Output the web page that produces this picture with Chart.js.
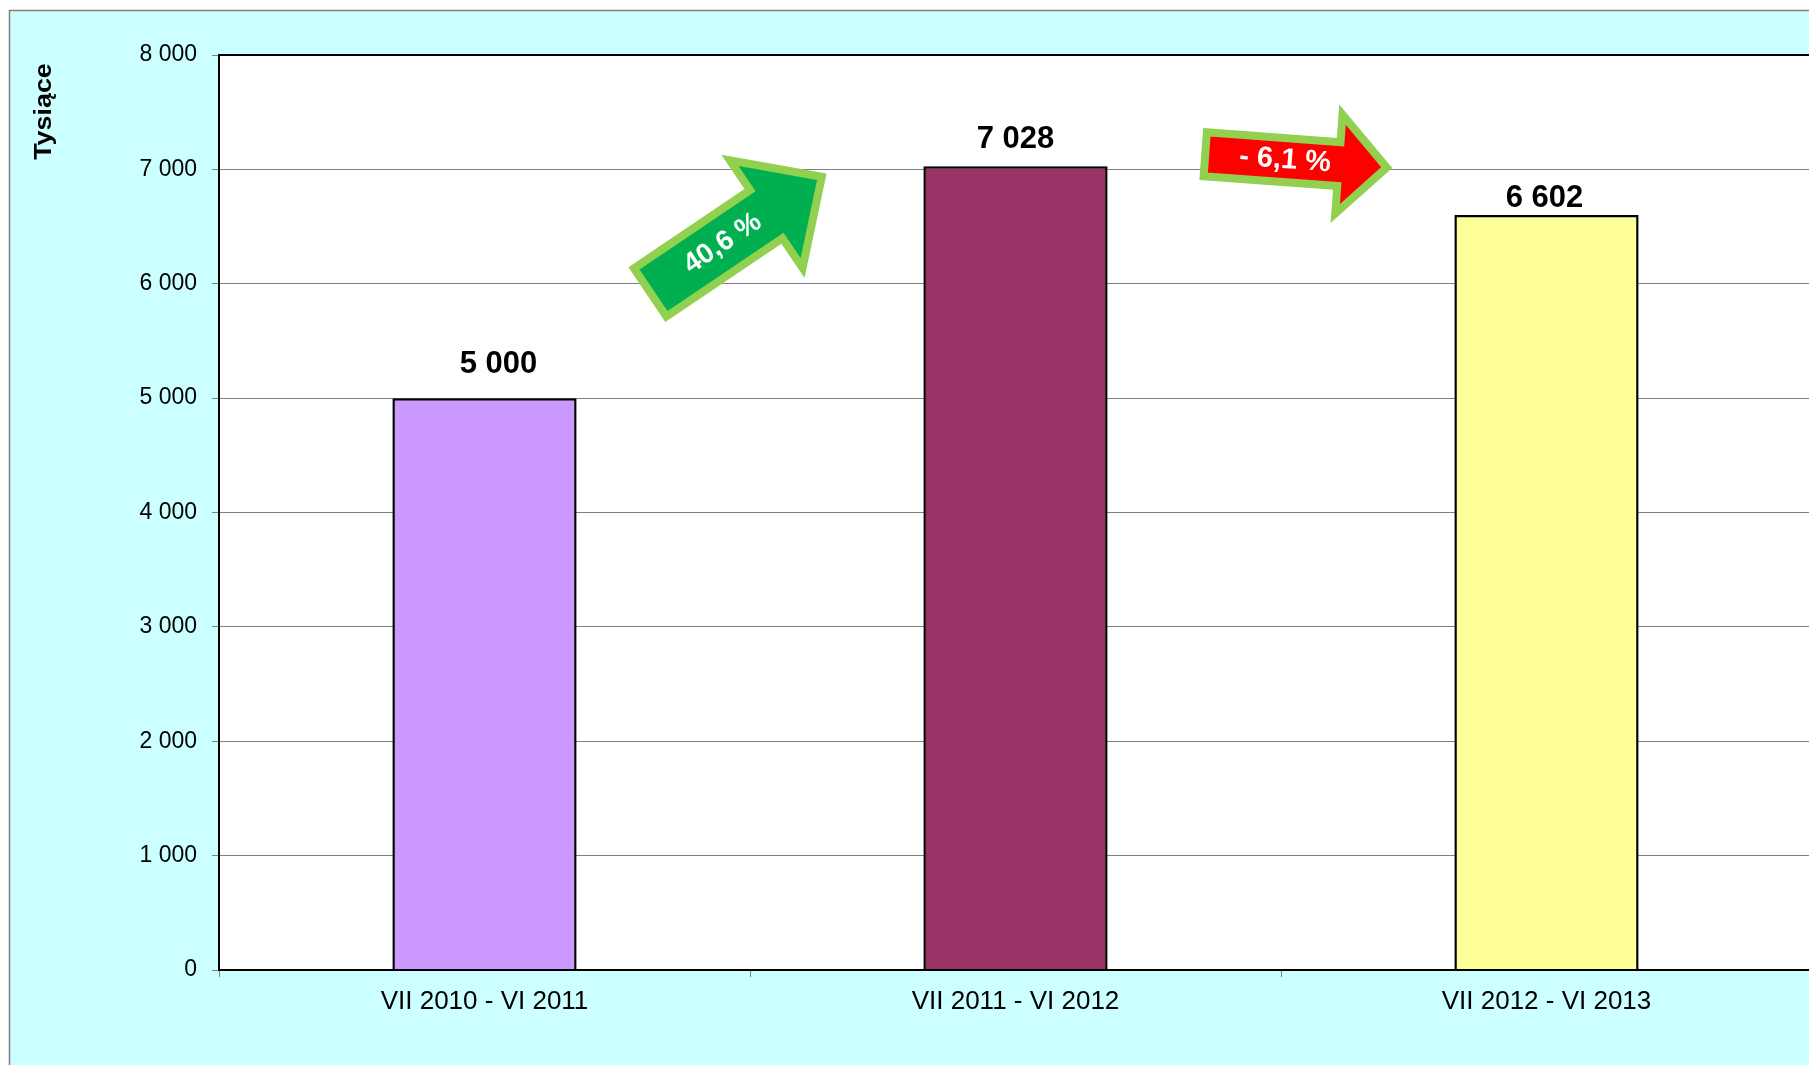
<!DOCTYPE html>
<html>
<head>
<meta charset="utf-8">
<script src="https://cdn.jsdelivr.net/npm/chart.js@4/dist/chart.umd.min.js"></script>
<style>
  html, body { margin: 0; padding: 0; background: #fff; overflow: hidden; }
  #wrap { width: 1820px; height: 1065px; }
</style>
</head>
<body>
<div id="wrap"><canvas id="myChart" width="1820" height="1065"></canvas></div>
<script>
// data
const periods = ["VII 2010 - VI 2011", "VII 2011 - VI 2012", "VII 2012 - VI 2013"];
const values = [5000, 7028, 6602];
const barColors = ["#CC99FF", "#993366", "#FFFF99"];
const yTicks = [0, 1000, 2000, 3000, 4000, 5000, 6000, 7000, 8000];
const axisTitle = "Tysiące";

const FONT = "'Liberation Sans', Arial, sans-serif";

const fmtNum = (v) => String(v).replace(/\B(?=(\d{3})+(?!\d))/g, " ");

const fmtPct = (a, b) => {
    const p = ((b - a) / a) * 100;
    const s = Math.abs(p).toFixed(1).replace(".", ",");
    return (p < 0 ? "- " : "") + s + " %";
};

// label nudges per bar (px), as in the picture
const labelShift = [[14, -34], [0, -27], [-2, -16]];

// change arrows between neighbouring bars
const arrowStyles = [
    { from: 0, dx: -14, yVal: 6430, angle: -34, len: 215, shaft: 66, head: 138, headLen: 71, font: 28, textShift: -16 },
    { from: 1, dx: 15, yVal: 7074, angle: 4.2, len: 190, shaft: 52, head: 107, headLen: 52, font: 29, textShift: -11 },
];

const framePlugin = {
    id: "frame",
    beforeDraw: (chart) => {
        const ctx = chart.ctx;
        const a = chart.chartArea;
        ctx.save();
        ctx.fillStyle = "#fff";
        ctx.fillRect(0, 0, chart.width, chart.height);
        ctx.fillStyle = "#CCFFFF";
        ctx.fillRect(9, 10, chart.width, chart.height);
        ctx.strokeStyle = "#7f7f7f";
        ctx.lineWidth = 1.5;
        ctx.strokeRect(9.5, 10.5, chart.width + 20, chart.height + 20);
        ctx.fillStyle = "#fff";
        ctx.fillRect(a.left, a.top, a.right - a.left, a.bottom - a.top);
        ctx.restore();
    },
    afterDraw: (chart) => {
        const ctx = chart.ctx;
        const a = chart.chartArea;
        ctx.save();
        ctx.strokeStyle = "#000";
        ctx.lineWidth = 2;
        ctx.strokeRect(a.left, a.top, a.right - a.left, a.bottom - a.top);

        // axis title
        ctx.translate(44, 111.5);
        ctx.rotate(-Math.PI / 2);
        ctx.scale(1.12, 1);
        ctx.fillStyle = "#000";
        ctx.font = "bold 24px " + FONT;
        ctx.textAlign = "center";
        ctx.textBaseline = "middle";
        ctx.fillText(axisTitle, 0, 0);
        ctx.restore();
    },
};

const labelPlugin = {
    id: "barLabels",
    afterDatasetsDraw: (chart) => {
        const ctx = chart.ctx;
        const meta = chart.getDatasetMeta(0);
        ctx.save();
        ctx.fillStyle = "#000";
        ctx.font = "bold 31px " + FONT;
        ctx.textAlign = "center";
        ctx.textBaseline = "middle";
        meta.data.forEach((bar, i) => {
            ctx.fillText(fmtNum(values[i]), bar.x + labelShift[i][0], bar.y + labelShift[i][1]);
        });
        ctx.restore();
    },
};

const arrowPlugin = {
    id: "arrows",
    afterDraw: (chart) => {
        const ctx = chart.ctx;
        const meta = chart.getDatasetMeta(0);
        const yScale = chart.scales.y;
        const b = 4;
        arrowStyles.forEach((st) => {
            const i = st.from;
            const cx = (meta.data[i].x + meta.data[i + 1].x) / 2 + st.dx;
            const cy = yScale.getPixelForValue(st.yVal);
            const up = values[i + 1] >= values[i];
            const L = st.len - 2 * b;
            const s = st.shaft / 2 - b;
            const h = st.head / 2 - b;
            const hl = st.headLen - b;
            ctx.save();
            ctx.translate(cx, cy);
            ctx.rotate((st.angle * Math.PI) / 180);
            ctx.beginPath();
            ctx.moveTo(-L / 2, -s);
            ctx.lineTo(L / 2 - hl, -s);
            ctx.lineTo(L / 2 - hl, -h);
            ctx.lineTo(L / 2, 0);
            ctx.lineTo(L / 2 - hl, h);
            ctx.lineTo(L / 2 - hl, s);
            ctx.lineTo(-L / 2, s);
            ctx.closePath();
            ctx.fillStyle = up ? "#00B050" : "#FF0000";
            ctx.fill();
            ctx.lineJoin = "miter";
            ctx.lineWidth = 2 * b;
            ctx.strokeStyle = "#92D050";
            ctx.stroke();
            ctx.fillStyle = "#fff";
            ctx.font = "bold " + st.font + "px " + FONT;
            ctx.textAlign = "center";
            ctx.textBaseline = "middle";
            ctx.fillText(fmtPct(values[i], values[i + 1]), st.textShift, 0);
            ctx.restore();
        });
    },
};

const ctx = document.getElementById("myChart").getContext("2d");

const myChart = new Chart(ctx, {
    type: "bar",
    data: {
        labels: periods,
        datasets: [
            {
                data: values,
                backgroundColor: barColors,
                borderColor: "#000",
                borderWidth: 2.5,
                barPercentage: 0.347,
                categoryPercentage: 1,
            },
        ],
    },
    options: {
        responsive: false,
        animation: false,
        layout: { padding: { top: 55, left: 0, right: 8, bottom: 0 } },
        plugins: {
            legend: { display: false },
            tooltip: { enabled: false },
        },
        scales: {
            x: {
                ticks: { color: "#000", font: { family: FONT, size: 26 }, padding: 9, maxRotation: 0 },
                grid: { drawOnChartArea: false, tickLength: 7, color: "#808080", offset: true },
                border: { color: "#000", width: 2 },
                afterFit: (s) => { s.height = 95; },
            },
            y: {
                min: yTicks[0],
                max: yTicks[yTicks.length - 1],
                afterBuildTicks: (s) => { s.ticks = yTicks.map((v) => ({ value: v })); },
                ticks: {
                    color: "#000",
                    font: { family: FONT, size: 23 },
                    padding: 15,
                    callback: (v) => fmtNum(v),
                },
                grid: { color: "#808080", lineWidth: 1, tickLength: 7 },
                border: { color: "#000", width: 2 },
                afterFit: (s) => { s.width = 219; },
            },
        },
    },
    plugins: [framePlugin, labelPlugin, arrowPlugin],
});
</script>
</body>
</html>
